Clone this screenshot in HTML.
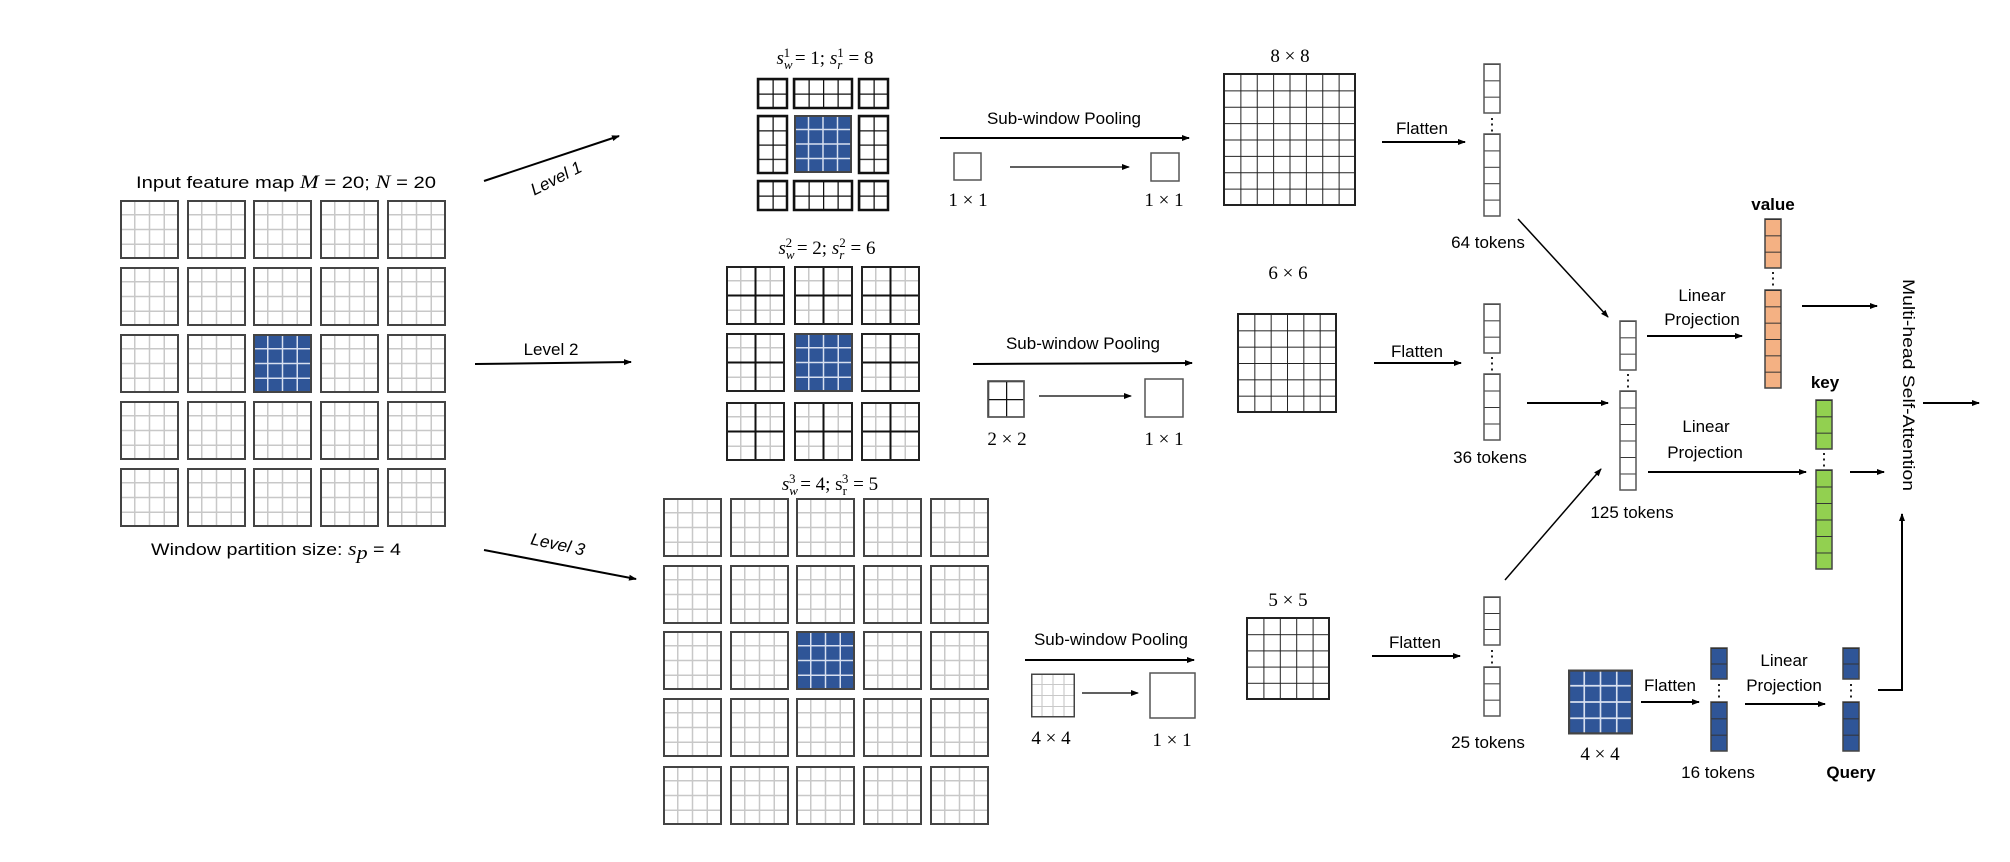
<!DOCTYPE html>
<html><head><meta charset="utf-8"><style>
html,body{margin:0;padding:0;background:#fff;}
svg{display:block;}
text{font-family:"Liberation Sans",sans-serif;font-size:17px;fill:#000;}
.m{font-family:"Liberation Serif",serif;font-size:19px;}
.b{font-weight:bold;}
</style></head><body>
<svg width="2010" height="862" viewBox="0 0 2010 862" xmlns="http://www.w3.org/2000/svg">
<defs>
<marker id="ar" markerWidth="8" markerHeight="8" refX="7" refY="4" orient="auto" markerUnits="userSpaceOnUse">
<path d="M0,1 L8,4 L0,7 Z" fill="#000"/></marker>
<symbol id="wg" viewBox="0 0 59 59">
<rect x="0" y="0" width="59" height="59" fill="#fff"/>
<path d="M14.75 0V59M29.5 0V59M44.25 0V59M0 14.75H59M0 29.5H59M0 44.25H59" stroke="#c8c8c8" stroke-width="1.5"/>
<rect x="1" y="1" width="57" height="57" fill="none" stroke="#444" stroke-width="2"/>
</symbol>
<symbol id="wb" viewBox="0 0 59 59">
<rect x="0" y="0" width="59" height="59" fill="#2F5597"/>
<path d="M14.75 0V59M29.5 0V59M44.25 0V59M0 14.75H59M0 29.5H59M0 44.25H59" stroke="#d8e0f0" stroke-width="1.5"/>
<rect x="1" y="1" width="57" height="57" fill="none" stroke="#444" stroke-width="2"/>
</symbol>
<symbol id="w2" viewBox="0 0 59 59">
<rect x="0" y="0" width="59" height="59" fill="#fff"/>
<path d="M14.75 0V59M44.25 0V59M0 14.75H59M0 44.25H59" stroke="#c8c8c8" stroke-width="1.5"/>
<path d="M29.5 0V59M0 29.5H59" stroke="#111" stroke-width="2"/>
<rect x="1" y="1" width="57" height="57" fill="none" stroke="#222" stroke-width="2"/>
</symbol>
<pattern id="g8" patternUnits="objectBoundingBox" width="0.125" height="0.125"><path d="M0 0H40M0 0V40" stroke="#222" stroke-width="2"/></pattern>
<pattern id="g6" patternUnits="objectBoundingBox" width="0.16667" height="0.16667"><path d="M0 0H40M0 0V40" stroke="#222" stroke-width="2"/></pattern>
<pattern id="g5" patternUnits="objectBoundingBox" width="0.2" height="0.2"><path d="M0 0H40M0 0V40" stroke="#222" stroke-width="2"/></pattern>
<pattern id="g2b" patternUnits="objectBoundingBox" width="0.5" height="0.5"><path d="M0 0H40M0 0V40" stroke="#111" stroke-width="2.5"/></pattern>
<pattern id="g4b" patternUnits="objectBoundingBox" width="0.25" height="0.25"><path d="M0 0H40M0 0V40" stroke="#111" stroke-width="2.5"/></pattern>
<pattern id="g2x4" patternUnits="objectBoundingBox" width="0.5" height="0.25"><path d="M0 0H40M0 0V40" stroke="#111" stroke-width="2.5"/></pattern>
<pattern id="g4x2" patternUnits="objectBoundingBox" width="0.25" height="0.5"><path d="M0 0H40M0 0V40" stroke="#111" stroke-width="2.5"/></pattern>
<pattern id="c2" patternUnits="objectBoundingBox" width="1" height="0.5"><path d="M0 0H40" stroke="#333" stroke-width="2"/></pattern>
<pattern id="c3" patternUnits="objectBoundingBox" width="1" height="0.33333"><path d="M0 0H40" stroke="#333" stroke-width="2"/></pattern>
<pattern id="c4" patternUnits="objectBoundingBox" width="1" height="0.25"><path d="M0 0H40" stroke="#333" stroke-width="2"/></pattern>
<pattern id="c5" patternUnits="objectBoundingBox" width="1" height="0.2"><path d="M0 0H40" stroke="#333" stroke-width="2"/></pattern>
<pattern id="c6" patternUnits="objectBoundingBox" width="1" height="0.16667"><path d="M0 0H40" stroke="#333" stroke-width="2"/></pattern>
</defs>

<!-- Input feature map -->
<text x="136" y="188" textLength="300" lengthAdjust="spacingAndGlyphs" font-size="19">Input feature map <tspan class="m" font-style="italic">M</tspan> = 20; <tspan class="m" font-style="italic">N</tspan> = 20</text>
<g>
<use href="#wg" x="120" y="200" width="59" height="59"/><use href="#wg" x="187" y="200" width="59" height="59"/><use href="#wg" x="253" y="200" width="59" height="59"/><use href="#wg" x="320" y="200" width="59" height="59"/><use href="#wg" x="387" y="200" width="59" height="59"/>
<use href="#wg" x="120" y="267" width="59" height="59"/><use href="#wg" x="187" y="267" width="59" height="59"/><use href="#wg" x="253" y="267" width="59" height="59"/><use href="#wg" x="320" y="267" width="59" height="59"/><use href="#wg" x="387" y="267" width="59" height="59"/>
<use href="#wg" x="120" y="334" width="59" height="59"/><use href="#wg" x="187" y="334" width="59" height="59"/><use href="#wb" x="253" y="334" width="59" height="59"/><use href="#wg" x="320" y="334" width="59" height="59"/><use href="#wg" x="387" y="334" width="59" height="59"/>
<use href="#wg" x="120" y="401" width="59" height="59"/><use href="#wg" x="187" y="401" width="59" height="59"/><use href="#wg" x="253" y="401" width="59" height="59"/><use href="#wg" x="320" y="401" width="59" height="59"/><use href="#wg" x="387" y="401" width="59" height="59"/>
<use href="#wg" x="120" y="468" width="59" height="59"/><use href="#wg" x="187" y="468" width="59" height="59"/><use href="#wg" x="253" y="468" width="59" height="59"/><use href="#wg" x="320" y="468" width="59" height="59"/><use href="#wg" x="387" y="468" width="59" height="59"/>
</g>
<text x="151" y="555" textLength="250" lengthAdjust="spacingAndGlyphs" font-size="19">Window partition size:  <tspan class="m" font-style="italic">s</tspan><tspan class="m" font-style="italic" font-size="13" dy="4">p</tspan><tspan dy="-4"> = 4</tspan></text>

<!-- Level arrows -->
<line x1="484" y1="181" x2="619" y2="136" stroke="#000" stroke-width="2" marker-end="url(#ar)"/>
<text x="556" y="184" text-anchor="middle" font-style="italic" transform="rotate(-27 556 178)">Level 1</text>
<line x1="475" y1="364" x2="631" y2="362" stroke="#000" stroke-width="2" marker-end="url(#ar)"/>
<text x="551" y="355" text-anchor="middle">Level 2</text>
<line x1="484" y1="550" x2="636" y2="579" stroke="#000" stroke-width="2" marker-end="url(#ar)"/>
<text x="558" y="550" text-anchor="middle" font-style="italic" transform="rotate(12 558 544)">Level 3</text>

<!-- Level 1 grid -->
<text x="825" y="64" text-anchor="middle" class="m"><tspan font-style="italic">s</tspan><tspan font-size="13" dy="5" font-style="italic">w</tspan><tspan font-size="13" dx="-9" dy="-12">1</tspan><tspan dy="7"> = 1; </tspan><tspan font-style="italic">s</tspan><tspan font-size="13" dy="5" font-style="italic">r</tspan><tspan font-size="13" dx="-5" dy="-12">1</tspan><tspan dy="7"> = 8</tspan></text>
<rect x="758" y="79" width="29" height="29" fill="url(#g2b)" stroke="#111" stroke-width="2.5"/>
<rect x="794" y="79" width="58" height="29" fill="url(#g4x2)" stroke="#111" stroke-width="2.5"/>
<rect x="859" y="79" width="29" height="29" fill="url(#g2b)" stroke="#111" stroke-width="2.5"/>
<rect x="758" y="116" width="29" height="57" fill="url(#g2x4)" stroke="#111" stroke-width="2.5"/>
<use href="#wb" x="794" y="115" width="58" height="58"/>
<rect x="859" y="116" width="29" height="57" fill="url(#g2x4)" stroke="#111" stroke-width="2.5"/>
<rect x="758" y="181" width="29" height="29" fill="url(#g2b)" stroke="#111" stroke-width="2.5"/>
<rect x="794" y="181" width="58" height="29" fill="url(#g4x2)" stroke="#111" stroke-width="2.5"/>
<rect x="859" y="181" width="29" height="29" fill="url(#g2b)" stroke="#111" stroke-width="2.5"/>

<!-- Level 2 grid -->
<text x="827" y="254" text-anchor="middle" class="m"><tspan font-style="italic">s</tspan><tspan font-size="13" dy="5" font-style="italic">w</tspan><tspan font-size="13" dx="-9" dy="-12">2</tspan><tspan dy="7"> = 2; </tspan><tspan font-style="italic">s</tspan><tspan font-size="13" dy="5" font-style="italic">r</tspan><tspan font-size="13" dx="-5" dy="-12">2</tspan><tspan dy="7"> = 6</tspan></text>
<use href="#w2" x="726" y="266" width="59" height="59"/><use href="#w2" x="794" y="266" width="59" height="59"/><use href="#w2" x="861" y="266" width="59" height="59"/>
<use href="#w2" x="726" y="333" width="59" height="59"/><use href="#wb" x="794" y="333" width="59" height="59"/><use href="#w2" x="861" y="333" width="59" height="59"/>
<use href="#w2" x="726" y="402" width="59" height="59"/><use href="#w2" x="794" y="402" width="59" height="59"/><use href="#w2" x="861" y="402" width="59" height="59"/>

<!-- Level 3 grid -->
<text x="830" y="490" text-anchor="middle" class="m"><tspan font-style="italic">s</tspan><tspan font-size="13" dy="5" font-style="italic">w</tspan><tspan font-size="13" dx="-9" dy="-12">3</tspan><tspan dy="7"> = 4; s</tspan><tspan font-size="13" dy="5">r</tspan><tspan font-size="13" dx="-5" dy="-12">3</tspan><tspan dy="7"> = 5</tspan></text>
<g>
<use href="#wg" x="663" y="498" width="59" height="59"/><use href="#wg" x="730" y="498" width="59" height="59"/><use href="#wg" x="796" y="498" width="59" height="59"/><use href="#wg" x="863" y="498" width="59" height="59"/><use href="#wg" x="930" y="498" width="59" height="59"/>
<use href="#wg" x="663" y="565" width="59" height="59"/><use href="#wg" x="730" y="565" width="59" height="59"/><use href="#wg" x="796" y="565" width="59" height="59"/><use href="#wg" x="863" y="565" width="59" height="59"/><use href="#wg" x="930" y="565" width="59" height="59"/>
<use href="#wg" x="663" y="631" width="59" height="59"/><use href="#wg" x="730" y="631" width="59" height="59"/><use href="#wb" x="796" y="631" width="59" height="59"/><use href="#wg" x="863" y="631" width="59" height="59"/><use href="#wg" x="930" y="631" width="59" height="59"/>
<use href="#wg" x="663" y="698" width="59" height="59"/><use href="#wg" x="730" y="698" width="59" height="59"/><use href="#wg" x="796" y="698" width="59" height="59"/><use href="#wg" x="863" y="698" width="59" height="59"/><use href="#wg" x="930" y="698" width="59" height="59"/>
<use href="#wg" x="663" y="766" width="59" height="59"/><use href="#wg" x="730" y="766" width="59" height="59"/><use href="#wg" x="796" y="766" width="59" height="59"/><use href="#wg" x="863" y="766" width="59" height="59"/><use href="#wg" x="930" y="766" width="59" height="59"/>
</g>

<!-- Pooling L1 -->
<text x="1064" y="124" text-anchor="middle">Sub-window Pooling</text>
<line x1="940" y1="138" x2="1189" y2="138" stroke="#000" stroke-width="2" marker-end="url(#ar)"/>
<rect x="954" y="153" width="27" height="27" fill="#fff" stroke="#555" stroke-width="1.5"/>
<text x="968" y="206" text-anchor="middle" class="m">1 × 1</text>
<line x1="1010" y1="167" x2="1129" y2="167" stroke="#000" stroke-width="1.2" marker-end="url(#ar)"/>
<rect x="1151" y="153" width="28" height="28" fill="#fff" stroke="#555" stroke-width="1.5"/>
<text x="1164" y="206" text-anchor="middle" class="m">1 × 1</text>
<text x="1290" y="62" text-anchor="middle" class="m">8 × 8</text>
<rect x="1224" y="74" width="131" height="131" fill="url(#g8)" stroke="#222" stroke-width="2"/>
<text x="1422" y="134" text-anchor="middle">Flatten</text>
<line x1="1382" y1="142" x2="1465" y2="142" stroke="#000" stroke-width="2" marker-end="url(#ar)"/>
<rect x="1484" y="64" width="16" height="49" fill="url(#c3)" stroke="#555" stroke-width="1.5"/>
<text x="1492" y="130" text-anchor="middle" font-size="14">⋮</text>
<rect x="1484" y="134" width="16" height="82" fill="url(#c5)" stroke="#555" stroke-width="1.5"/>
<text x="1488" y="248" text-anchor="middle">64 tokens</text>
<line x1="1518" y1="219" x2="1608" y2="317" stroke="#000" stroke-width="1.5" marker-end="url(#ar)"/>

<!-- Pooling L2 -->
<text x="1083" y="349" text-anchor="middle">Sub-window Pooling</text>
<line x1="973" y1="364" x2="1192" y2="363" stroke="#000" stroke-width="2" marker-end="url(#ar)"/>
<rect x="988" y="381" width="36" height="36" fill="url(#g2b)" stroke="#555" stroke-width="1.5"/>
<rect x="988" y="381" width="36" height="36" fill="none" stroke="#555" stroke-width="1.5"/>
<text x="1007" y="445" text-anchor="middle" class="m">2 × 2</text>
<line x1="1039" y1="396" x2="1131" y2="396" stroke="#000" stroke-width="1.2" marker-end="url(#ar)"/>
<rect x="1145" y="379" width="38" height="38" fill="#fff" stroke="#555" stroke-width="1.5"/>
<text x="1164" y="445" text-anchor="middle" class="m">1 × 1</text>
<text x="1288" y="279" text-anchor="middle" class="m">6 × 6</text>
<rect x="1238" y="314" width="98" height="98" fill="url(#g6)" stroke="#222" stroke-width="2"/>
<text x="1417" y="357" text-anchor="middle">Flatten</text>
<line x1="1374" y1="363" x2="1461" y2="363" stroke="#000" stroke-width="2" marker-end="url(#ar)"/>
<rect x="1484" y="304" width="16" height="49" fill="url(#c3)" stroke="#555" stroke-width="1.5"/>
<text x="1492" y="369" text-anchor="middle" font-size="14">⋮</text>
<rect x="1484" y="374" width="16" height="66" fill="url(#c4)" stroke="#555" stroke-width="1.5"/>
<text x="1490" y="463" text-anchor="middle">36 tokens</text>
<line x1="1527" y1="403" x2="1608" y2="403" stroke="#000" stroke-width="2" marker-end="url(#ar)"/>

<!-- Concat column -->
<rect x="1620" y="321" width="16" height="49" fill="url(#c3)" stroke="#555" stroke-width="1.5"/>
<text x="1628" y="386" text-anchor="middle" font-size="14">⋮</text>
<rect x="1620" y="391" width="16" height="99" fill="url(#c6)" stroke="#555" stroke-width="1.5"/>
<text x="1632" y="518" text-anchor="middle">125 tokens</text>
<line x1="1505" y1="580" x2="1601" y2="469" stroke="#000" stroke-width="1.5" marker-end="url(#ar)"/>

<!-- value -->
<text x="1702" y="301" text-anchor="middle">Linear</text>
<text x="1702" y="325" text-anchor="middle">Projection</text>
<line x1="1647" y1="336" x2="1742" y2="336" stroke="#000" stroke-width="2" marker-end="url(#ar)"/>
<text x="1773" y="210" text-anchor="middle" class="b">value</text>
<rect x="1765" y="219" width="16" height="49" fill="#F4B183" stroke="#444" stroke-width="1.5"/>
<rect x="1765" y="219" width="16" height="49" fill="url(#c3)"/>
<text x="1773" y="284" text-anchor="middle" font-size="14">⋮</text>
<rect x="1765" y="290" width="16" height="98" fill="#F4B183" stroke="#444" stroke-width="1.5"/>
<rect x="1765" y="290" width="16" height="98" fill="url(#c6)"/>
<line x1="1802" y1="306" x2="1877" y2="306" stroke="#000" stroke-width="2" marker-end="url(#ar)"/>

<!-- key -->
<text x="1706" y="432" text-anchor="middle">Linear</text>
<text x="1705" y="458" text-anchor="middle">Projection</text>
<line x1="1648" y1="472" x2="1806" y2="472" stroke="#000" stroke-width="2" marker-end="url(#ar)"/>
<text x="1825" y="388" text-anchor="middle" class="b">key</text>
<rect x="1816" y="400" width="16" height="49" fill="#92D050" stroke="#444" stroke-width="1.5"/>
<rect x="1816" y="400" width="16" height="49" fill="url(#c3)"/>
<text x="1824" y="465" text-anchor="middle" font-size="14">⋮</text>
<rect x="1816" y="470" width="16" height="99" fill="#92D050" stroke="#444" stroke-width="1.5"/>
<rect x="1816" y="470" width="16" height="99" fill="url(#c6)"/>
<line x1="1850" y1="472" x2="1884" y2="472" stroke="#000" stroke-width="2" marker-end="url(#ar)"/>

<!-- MHSA -->
<text x="1897" y="391" text-anchor="middle" font-size="17" textLength="212" lengthAdjust="spacingAndGlyphs" transform="rotate(90 1903 391)" x-shift="0">Multi-head Self-Attention</text>
<line x1="1923" y1="403" x2="1979" y2="403" stroke="#000" stroke-width="2" marker-end="url(#ar)"/>

<!-- Pooling L3 -->
<text x="1111" y="645" text-anchor="middle">Sub-window Pooling</text>
<line x1="1025" y1="660" x2="1194" y2="660" stroke="#000" stroke-width="2" marker-end="url(#ar)"/>
<use href="#wg" x="1031" y="673" width="44" height="45"/>
<text x="1051" y="744" text-anchor="middle" class="m">4 × 4</text>
<line x1="1082" y1="693" x2="1138" y2="693" stroke="#000" stroke-width="1.2" marker-end="url(#ar)"/>
<rect x="1150" y="673" width="45" height="45" fill="#fff" stroke="#555" stroke-width="1.5"/>
<text x="1172" y="746" text-anchor="middle" class="m">1 × 1</text>
<text x="1288" y="606" text-anchor="middle" class="m">5 × 5</text>
<rect x="1247" y="618" width="82" height="81" fill="url(#g5)" stroke="#222" stroke-width="2"/>
<text x="1415" y="648" text-anchor="middle">Flatten</text>
<line x1="1372" y1="656" x2="1460" y2="656" stroke="#000" stroke-width="2" marker-end="url(#ar)"/>
<rect x="1484" y="597" width="16" height="48" fill="url(#c3)" stroke="#555" stroke-width="1.5"/>
<text x="1492" y="662" text-anchor="middle" font-size="14">⋮</text>
<rect x="1484" y="667" width="16" height="49" fill="url(#c3)" stroke="#555" stroke-width="1.5"/>
<text x="1488" y="748" text-anchor="middle">25 tokens</text>

<!-- Query -->
<use href="#wb" x="1568" y="669" width="65" height="66"/>
<text x="1600" y="760" text-anchor="middle" class="m">4 × 4</text>
<text x="1670" y="691" text-anchor="middle">Flatten</text>
<line x1="1641" y1="702" x2="1699" y2="702" stroke="#000" stroke-width="2" marker-end="url(#ar)"/>
<rect x="1711" y="648" width="16" height="31" fill="#2F5597" stroke="#444" stroke-width="1.5"/>
<rect x="1711" y="648" width="16" height="31" fill="url(#c2)"/>
<text x="1719" y="696" text-anchor="middle" font-size="14">⋮</text>
<rect x="1711" y="702" width="16" height="49" fill="#2F5597" stroke="#444" stroke-width="1.5"/>
<rect x="1711" y="702" width="16" height="49" fill="url(#c3)"/>
<text x="1718" y="778" text-anchor="middle">16 tokens</text>
<text x="1784" y="666" text-anchor="middle">Linear</text>
<text x="1784" y="691" text-anchor="middle">Projection</text>
<line x1="1745" y1="704" x2="1825" y2="704" stroke="#000" stroke-width="2" marker-end="url(#ar)"/>
<rect x="1843" y="648" width="16" height="31" fill="#2F5597" stroke="#444" stroke-width="1.5"/>
<rect x="1843" y="648" width="16" height="31" fill="url(#c2)"/>
<text x="1851" y="696" text-anchor="middle" font-size="14">⋮</text>
<rect x="1843" y="702" width="16" height="49" fill="#2F5597" stroke="#444" stroke-width="1.5"/>
<rect x="1843" y="702" width="16" height="49" fill="url(#c3)"/>
<text x="1851" y="778" text-anchor="middle" class="b">Query</text>
<polyline points="1878,690 1902,690 1902,514" fill="none" stroke="#000" stroke-width="2" marker-end="url(#ar)"/>
</svg>
</body></html>
